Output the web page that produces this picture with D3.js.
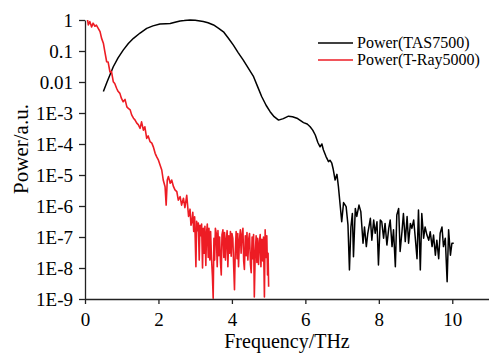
<!DOCTYPE html>
<html>
<head>
<meta charset="utf-8">
<script src="https://cdn.jsdelivr.net/npm/d3@7"></script>
<style>
  html, body { margin: 0; padding: 0; background: #fff; }
  svg { display: block; }
  text { font-family: "Liberation Serif", "Times New Roman", serif; fill: #000; }
</style>
</head>
<body>
<svg id="chart" width="489" height="354"></svg>
<script>
// ---- Data ----
const tasFreq = [0.50,0.60,0.77,0.90,1.04,1.18,1.32,1.50,1.68,1.85,2.04,2.20,2.32,2.45,2.59,2.70,2.86,3.00,3.22,3.35,3.50,3.63,3.77,3.90,4.04,4.17,4.31,4.45,4.59,4.70,4.81,4.93,5.04,5.15,5.27,5.40,5.54,5.65,5.77,5.86,5.95,6.05,6.13,6.20,6.27,6.34,6.40,6.45,6.49,6.56,6.63,6.67,6.72,6.76,6.81,6.86,6.90,6.99,7.04,7.11,7.16,7.20,7.24,7.28,7.31,7.36,7.40,7.46,7.51,7.57,7.61,7.66,7.70,7.77,7.81,7.86,7.90,7.95,7.99,8.04,8.08,8.13,8.17,8.22,8.27,8.31,8.36,8.40,8.45,8.49,8.54,8.58,8.63,8.67,8.72,8.77,8.81,8.86,8.90,8.95,8.99,9.04,9.08,9.13,9.17,9.22,9.26,9.31,9.36,9.40,9.45,9.49,9.54,9.58,9.63,9.67,9.72,9.76,9.81,9.86,9.90,9.95,9.99,10.04];
const tasPower = [4.9e-3,1.0e-2,3.1e-2,6.0e-2,0.107,0.174,0.257,0.38,0.537,0.646,0.741,0.759,0.776,0.851,0.933,0.955,1.0,0.977,0.891,0.813,0.692,0.55,0.417,0.263,0.155,8.9e-2,5.1e-2,2.75e-2,1.48e-2,7.1e-3,3.4e-3,1.78e-3,1.1e-3,7.6e-4,5.9e-4,6.6e-4,7.9e-4,7.6e-4,6.8e-4,5.75e-4,4.9e-4,4.4e-4,3.6e-4,2.8e-4,1.95e-4,1.12e-4,8.1e-5,1.0e-4,6.5e-5,4.0e-5,2.7e-5,3.0e-5,2.4e-5,1.5e-5,6.9e-6,1.05e-5,4.2e-6,3.1e-7,1.29e-6,9.5e-7,2.45e-7,8.7e-9,2.1e-7,5.75e-7,2.3e-8,8.3e-7,4.6e-7,1.07e-6,6.6e-7,6.3e-8,2.1e-7,4.9e-8,1.32e-7,4.0e-7,7.9e-8,3.55e-7,1.32e-7,3.1e-7,1.26e-8,3.55e-7,3.1e-7,9.1e-8,2.75e-7,5.5e-8,1.9e-7,3.55e-7,4.9e-8,1.7e-7,1.1e-8,5.1e-7,8.3e-7,3.4e-8,1.48e-7,5.75e-7,7.1e-8,4.6e-7,6.3e-8,2.75e-7,1.9e-7,3.55e-7,1.02e-7,2.0e-8,7.4e-7,8.7e-9,5.75e-7,9.1e-8,2.1e-7,1.15e-7,7.9e-8,1.48e-7,4.9e-8,1.15e-7,2.6e-8,7.9e-8,2.0e-8,1.32e-7,2.1e-7,4.9e-8,9.1e-8,3.6e-9,1.7e-7,2.6e-8,6.3e-8,6.3e-8];

const trayFreq = [0.07,0.09,0.13,0.18,0.22,0.27,0.31,0.36,0.41,0.45,0.50,0.54,0.59,0.63,0.68,0.72,0.77,0.81,0.86,0.90,0.95,0.99,1.04,1.09,1.14,1.18,1.23,1.27,1.32,1.36,1.41,1.45,1.50,1.54,1.59,1.63,1.68,1.72,1.77,1.82,1.86,1.91,1.95,2.00,2.09,2.13,2.18,2.21,2.24,2.27,2.32,2.36,2.41,2.45,2.50,2.54,2.59,2.63,2.68,2.72,2.77,2.82,
  2.86,2.885,2.91,2.935,2.96,2.985,3.00,3.02,3.04,3.065,3.085,3.11,3.13,3.15,3.175,3.20,3.22,3.245,3.265,3.29,3.31,3.33,3.355,3.375,3.40,3.42,3.445,3.47,3.49,3.51,3.53,3.55,3.575,3.60,3.62,3.645,3.665,3.69,3.71,3.73,3.755,3.78,3.80,3.825,3.845,3.87,3.89,3.915,3.935,3.96,3.98,4.00,4.025,4.05,4.07,4.09,4.115,4.14,4.16,4.18,4.205,4.23,4.25,4.275,4.30,4.32,4.34,4.365,4.39,4.41,4.435,4.46,4.48,4.505,4.525,4.55,4.57,4.59,4.61,4.635,4.66,4.68,4.70,4.725,4.75,4.77,4.79,4.815,4.84,4.86,4.885,4.905,4.93,4.95,4.97,4.985,5.00];
const trayPower = [1.0,0.69,0.89,0.6,0.79,0.63,0.68,0.54,0.42,0.26,0.178,9.5e-2,4.5e-2,4.4e-2,2.1e-2,2.2e-2,1.02e-2,8.9e-3,6.3e-3,5.0e-3,4.3e-3,3.0e-3,2.3e-3,2.75e-3,1.58e-3,1.41e-3,1.26e-3,8.7e-4,6.8e-4,6.0e-4,4.7e-4,4.2e-4,3.2e-4,5.2e-4,2.8e-4,3.6e-4,1.51e-4,1.82e-4,1.2e-4,1.07e-4,8.1e-5,5.0e-5,3.9e-5,3.0e-5,1.45e-5,6.9e-6,4.2e-6,1.07e-6,6.9e-6,8.9e-6,5.4e-6,6.9e-6,4.2e-6,3.3e-6,2.9e-6,1.55e-6,2.0e-6,1.07e-6,1.78e-6,8.9e-7,2.2e-6,4.6e-7,
  7.9e-7,2.4e-7,3.1e-7,6.3e-7,1.5e-7,4.5e-7,1.0e-7,1.1e-8,3.2e-7,1.6e-7,2.8e-7,1.8e-8,2.4e-7,1.1e-7,2.6e-7,1.0e-8,1.9e-7,3.0e-8,2.2e-7,1.2e-8,1.4e-7,2.6e-7,2.2e-8,1.9e-7,1.8e-8,1.5e-7,2.0e-8,5.2e-9,1.05e-9,9.0e-8,1.8e-8,1.9e-7,1.3e-7,1.1e-8,1.6e-7,2.5e-8,1.0e-7,1.5e-8,6e-9,1.2e-7,1.7e-7,2.2e-8,1.4e-7,1.8e-8,7.9e-8,1.6e-7,1.1e-8,1.1e-7,3.0e-8,1.5e-7,2.4e-8,1.3e-7,9.0e-8,1.0e-8,2.0e-9,3.0e-8,1.5e-7,2.0e-8,1.3e-7,1.1e-8,8.0e-8,1.7e-7,3.0e-8,1.2e-7,1.9e-7,1.7e-8,9e-9,1.1e-7,2.5e-8,1.4e-7,1.8e-8,9.0e-8,1.3e-7,1.3e-8,7e-9,1.0e-7,2.0e-8,1.2e-7,1.17e-9,3.0e-8,1.1e-7,1.5e-8,9.0e-8,1.3e-8,7.5e-8,1.2e-7,1.1e-8,8.5e-8,1.7e-8,1.0e-7,1.17e-9,1.7e-7,2.2e-8,1.1e-7,6e-9,3.0e-8,2.5e-9];

const xTicks = [0, 2, 4, 6, 8, 10];
const yTicks = [1, 0.1, 0.01, 1e-3, 1e-4, 1e-5, 1e-6, 1e-7, 1e-8, 1e-9];
const yTickLabels = ["1", "0.1", "0.01", "1E-3", "1E-4", "1E-5", "1E-6", "1E-7", "1E-8", "1E-9"];
const seriesNames = ["Power(TAS7500)", "Power(T-Ray5000)"];
const seriesColors = ["#000000", "#ed1c24"];

// ---- Chart ----
const serif = '"Liberation Serif", "Times New Roman", serif';
const svg = d3.select("#chart");
const mLeft = 85, mRight = 489, mTop = 20, mBottom = 299;

const x = d3.scaleLinear().domain([0, 11]).range([mLeft, mRight]);
const y = d3.scaleLog().domain([1e-9, 1]).range([mBottom, mTop]).clamp(true);

const line = d3.line().x(d => x(d[0])).y(d => y(d[1]));

const tas = tasFreq.map((f, i) => [f, tasPower[i]]);
const tray = trayFreq.map((f, i) => [f, trayPower[i]]);

svg.append("path").datum(tas)
  .attr("d", line).attr("fill", "none")
  .attr("stroke", seriesColors[0]).attr("stroke-width", 1.5).attr("stroke-linejoin", "round");
svg.append("path").datum(tray)
  .attr("d", line).attr("fill", "none")
  .attr("stroke", seriesColors[1]).attr("stroke-width", 1.6).attr("stroke-linejoin", "round");

// Axes
const xAxis = d3.axisBottom(x).tickValues(xTicks).tickSizeInner(5).tickSizeOuter(0).tickFormat(d3.format("d"));
const gx = svg.append("g").attr("transform", `translate(0,${mBottom})`).call(xAxis)
  .attr("font-family", serif).attr("font-size", 19);
gx.selectAll("text").attr("dy", "0").attr("y", 27);

const yAxis = d3.axisLeft(y).tickValues(yTicks).tickSize(6).tickSizeOuter(0)
  .tickFormat((d, i) => yTickLabels[i]);
const gy = svg.append("g").attr("transform", `translate(${mLeft},0)`).call(yAxis)
  .attr("font-family", serif).attr("font-size", 19);
gy.selectAll("text").attr("x", -12);

svg.selectAll(".domain, .tick line").attr("stroke", "#222").attr("stroke-width", 1.3);

// Titles
svg.append("text").attr("x", 287).attr("y", 348).attr("text-anchor", "middle")
  .attr("font-family", serif).attr("font-size", 20).text("Frequency/THz");
svg.append("text").attr("transform", "translate(28,149) rotate(-90)")
  .attr("text-anchor", "middle").attr("font-family", serif).attr("font-size", 21).text("Power/a.u.");

// Legend
seriesNames.forEach((name, i) => {
  const ly = 43 + i * 17;
  svg.append("line").attr("x1", 318).attr("x2", 353).attr("y1", ly).attr("y2", ly)
    .attr("stroke", seriesColors[i]).attr("stroke-width", 1.5);
  svg.append("text").attr("x", 357).attr("y", ly + 5).attr("font-family", serif)
    .attr("font-size", 16).text(name);
});
</script>
</body>
</html>
